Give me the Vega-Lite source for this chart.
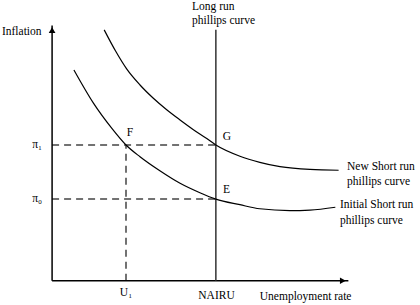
{
  "$schema": "https://vega.github.io/schema/vega-lite/v6.json",
  "width": 420,
  "height": 305,
  "autosize": {"type": "fit", "contains": "padding"},
  "padding": 0,
  "background": "white",
  "config": {"view": {"stroke": null}},
  "datasets": {
    "lines": [
      {"curve": "yaxis", "x": 0, "y": 0},
      {"curve": "yaxis", "x": 0, "y": 10},
      {"curve": "xaxis", "x": 0, "y": 0},
      {"curve": "xaxis", "x": 9.1, "y": 0},
      {"curve": "lrpc", "x": 5.03, "y": 0},
      {"curve": "lrpc", "x": 5.03, "y": 9.83},
      {"curve": "initial", "x": 0.67, "y": 8.26},
      {"curve": "initial", "x": 1.27, "y": 6.96},
      {"curve": "initial", "x": 1.83, "y": 5.98},
      {"curve": "initial", "x": 2.27, "y": 5.32},
      {"curve": "initial", "x": 2.7, "y": 4.86},
      {"curve": "initial", "x": 3.31, "y": 4.31},
      {"curve": "initial", "x": 3.93, "y": 3.82},
      {"curve": "initial", "x": 4.54, "y": 3.45},
      {"curve": "initial", "x": 5.03, "y": 3.2},
      {"curve": "initial", "x": 5.77, "y": 2.98},
      {"curve": "initial", "x": 6.38, "y": 2.82},
      {"curve": "initial", "x": 7.3, "y": 2.75},
      {"curve": "initial", "x": 7.92, "y": 2.77},
      {"curve": "initial", "x": 8.7, "y": 2.88},
      {"curve": "new", "x": 1.6, "y": 9.83},
      {"curve": "new", "x": 1.95, "y": 9.0},
      {"curve": "new", "x": 2.29, "y": 8.3},
      {"curve": "new", "x": 2.7, "y": 7.67},
      {"curve": "new", "x": 3.11, "y": 7.15},
      {"curve": "new", "x": 3.52, "y": 6.7},
      {"curve": "new", "x": 3.93, "y": 6.3},
      {"curve": "new", "x": 4.34, "y": 5.92},
      {"curve": "new", "x": 4.75, "y": 5.57},
      {"curve": "new", "x": 5.03, "y": 5.32},
      {"curve": "new", "x": 5.77, "y": 4.88},
      {"curve": "new", "x": 6.38, "y": 4.64},
      {"curve": "new", "x": 7, "y": 4.47},
      {"curve": "new", "x": 7.92, "y": 4.36},
      {"curve": "new", "x": 8.8, "y": 4.33}
    ],
    "guides": [
      {"guide": "pi1", "x": 0, "y": 5.32},
      {"guide": "pi1", "x": 5.03, "y": 5.32},
      {"guide": "pi0", "x": 0, "y": 3.2},
      {"guide": "pi0", "x": 5.03, "y": 3.2},
      {"guide": "u1", "x": 2.27, "y": 0},
      {"guide": "u1", "x": 2.27, "y": 5.32}
    ],
    "arrows": [
      {"dir": "up", "x": 0, "y": 9.82},
      {"dir": "right", "x": 8.93, "y": 0}
    ],
    "leftLabels": [
      {"label": "Inflation", "x": -1.54, "y": 9.75},
      {"label": "Long run", "x": 4.3, "y": 10.73},
      {"label": "phillips curve", "x": 4.3, "y": 10.18},
      {"label": "Unemployment rate", "x": 6.38, "y": -0.63},
      {"label": "New Short run", "x": 9.06, "y": 4.46},
      {"label": "phillips curve", "x": 9.06, "y": 3.87},
      {"label": "Initial Short run", "x": 8.84, "y": 2.97},
      {"label": "phillips curve", "x": 8.84, "y": 2.34}
    ],
    "centerLabels": [
      {"label": "F", "x": 2.39, "y": 5.79},
      {"label": "G", "x": 5.37, "y": 5.63},
      {"label": "E", "x": 5.36, "y": 3.56},
      {"label": "U₁", "x": 2.27, "y": -0.48},
      {"label": "NAIRU", "x": 5.05, "y": -0.6}
    ],
    "rightLabels": [
      {"label": "π₁", "x": -0.31, "y": 5.32},
      {"label": "π₀", "x": -0.31, "y": 3.2}
    ]
  },
  "encoding": {
    "x": {"field": "x", "type": "quantitative", "scale": {"domain": [-1.6, 11.3], "nice": false, "zero": false}, "axis": null},
    "y": {"field": "y", "type": "quantitative", "scale": {"domain": [-0.95, 11], "nice": false, "zero": false}, "axis": null}
  },
  "layer": [
    {
      "data": {"name": "guides"},
      "mark": {"type": "line", "color": "#444444", "strokeWidth": 1.5, "strokeDash": [7, 5]},
      "encoding": {"detail": {"field": "guide"}}
    },
    {
      "data": {"name": "lines"},
      "transform": [{"filter": "datum.curve === 'xaxis' || datum.curve === 'yaxis'"}],
      "mark": {"type": "line", "color": "black", "strokeWidth": 1.5},
      "encoding": {"detail": {"field": "curve"}}
    },
    {
      "data": {"name": "lines"},
      "transform": [{"filter": "datum.curve === 'lrpc'"}],
      "mark": {"type": "line", "color": "#333333", "strokeWidth": 1.5},
      "encoding": {"detail": {"field": "curve"}}
    },
    {
      "data": {"name": "lines"},
      "transform": [{"filter": "datum.curve === 'initial' || datum.curve === 'new'"}],
      "mark": {"type": "line", "color": "black", "strokeWidth": 1.2, "interpolate": "monotone"},
      "encoding": {"detail": {"field": "curve"}}
    },
    {
      "data": {"name": "arrows"},
      "mark": {"type": "point", "filled": true, "color": "black", "size": 45, "opacity": 1},
      "encoding": {
        "shape": {"field": "dir", "type": "nominal", "scale": {"domain": ["up", "right"], "range": ["triangle-up", "triangle-right"]}, "legend": null}
      }
    },
    {
      "data": {"name": "leftLabels"},
      "mark": {"type": "text", "align": "left", "baseline": "middle", "font": "Liberation Serif, Times New Roman, serif", "fontSize": 11.5, "color": "black"},
      "encoding": {"text": {"field": "label"}}
    },
    {
      "data": {"name": "centerLabels"},
      "mark": {"type": "text", "align": "center", "baseline": "middle", "font": "Liberation Serif, Times New Roman, serif", "fontSize": 11.5, "color": "black"},
      "encoding": {"text": {"field": "label"}}
    },
    {
      "data": {"name": "rightLabels"},
      "mark": {"type": "text", "align": "right", "baseline": "middle", "font": "Liberation Serif, Times New Roman, serif", "fontSize": 11.5, "color": "black"},
      "encoding": {"text": {"field": "label"}}
    }
  ]
}
